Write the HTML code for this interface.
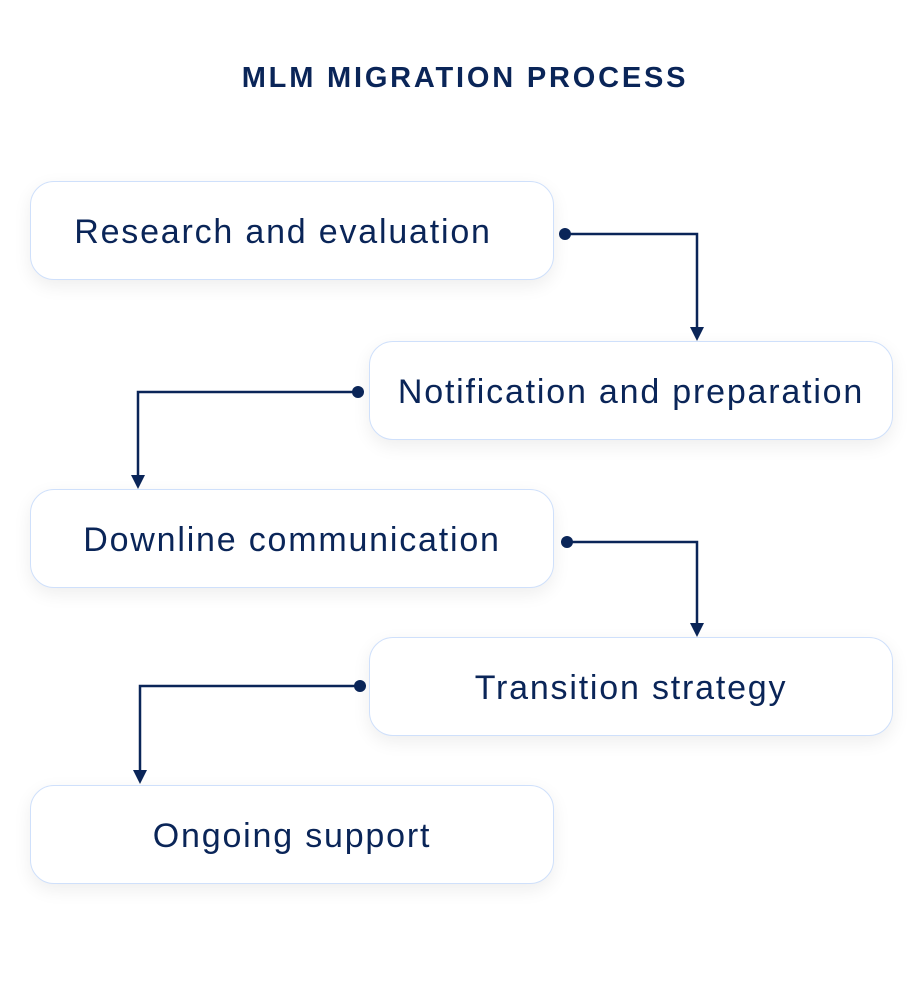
<!DOCTYPE html>
<html><head><meta charset="utf-8"><style>
html,body{margin:0;padding:0;background:#fff;}
body{width:916px;height:1002px;position:relative;overflow:hidden;font-family:"Liberation Sans",sans-serif;color:#0a2558;}
.t{position:absolute;left:0;width:916px;top:60px;text-align:center;font-weight:bold;font-size:29px;letter-spacing:2.8px;line-height:36px;padding-left:14px;box-sizing:border-box;}
.b{position:absolute;width:524px;height:99px;box-sizing:border-box;border:1px solid #cfe0fb;border-radius:24px;background:#fff;box-shadow:0 6px 18px rgba(0,0,0,0.07);display:flex;align-items:center;justify-content:center;font-size:34px;letter-spacing:1.8px;padding-top:4px;}
svg{position:absolute;left:0;top:0;}
</style></head><body>
<div class="t">MLM MIGRATION PROCESS</div>
<div class="b" style="left:30px;top:181px;padding-right:18px">Research and evaluation</div>
<div class="b" style="left:369px;top:341px">Notification and preparation</div>
<div class="b" style="left:30px;top:489px">Downline communication</div>
<div class="b" style="left:369px;top:637px">Transition strategy</div>
<div class="b" style="left:30px;top:785px">Ongoing support</div>
<svg width="916" height="1002" fill="none" stroke="#0a2558" stroke-width="2.5">
<circle cx="565" cy="234" r="6" fill="#0a2558" stroke="none"/>
<path d="M565 234H697V328"/><path d="M690 327L704 327L697 341Z" fill="#0a2558" stroke="none"/>
<circle cx="358" cy="392" r="6" fill="#0a2558" stroke="none"/>
<path d="M358 392H138V476"/><path d="M131 475L145 475L138 489Z" fill="#0a2558" stroke="none"/>
<circle cx="567" cy="542" r="6" fill="#0a2558" stroke="none"/>
<path d="M567 542H697V624"/><path d="M690 623L704 623L697 637Z" fill="#0a2558" stroke="none"/>
<circle cx="360" cy="686" r="6" fill="#0a2558" stroke="none"/>
<path d="M360 686H140V771"/><path d="M133 770L147 770L140 784Z" fill="#0a2558" stroke="none"/>
</svg>
</body></html>
